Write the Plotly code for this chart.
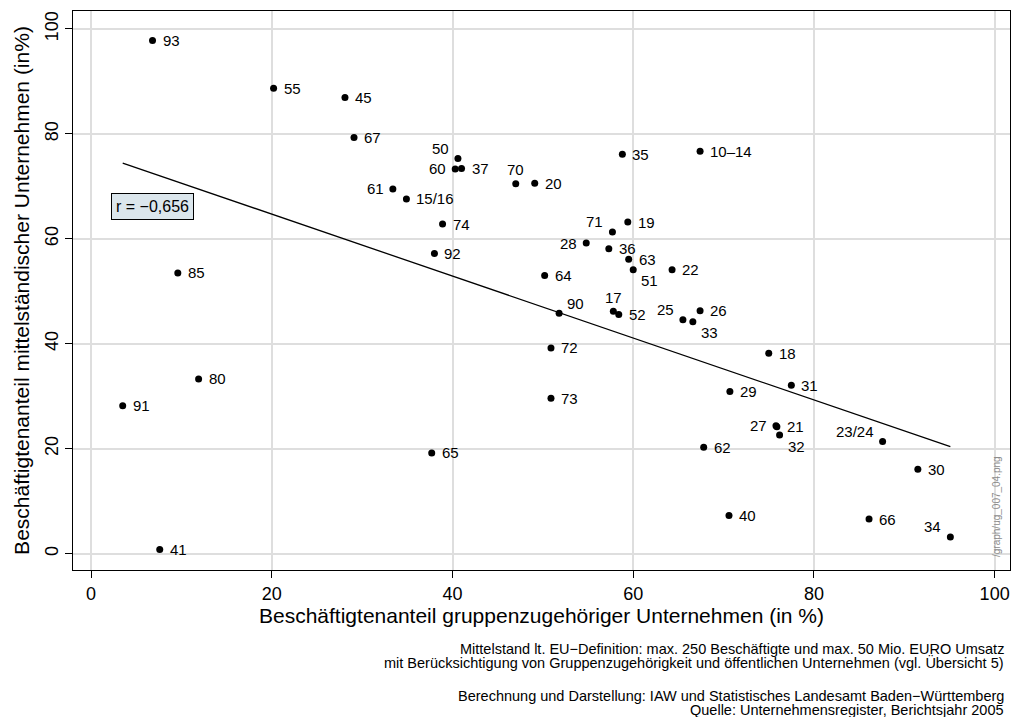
import plotly.graph_objects as go

# Wirtschaftszweige (WZ-Abteilungen)
labels = ["93", "55", "45", "67", "61", "15/16", "50", "60", "37", "70", "20",
          "35", "10–14", "74", "92", "71", "19", "28", "36", "63", "51", "22",
          "64", "90", "17", "52", "25", "33", "26", "72", "18", "29", "31",
          "27", "21", "32", "23/24", "62", "30", "40", "66", "34", "85", "80",
          "91", "65", "41", "73"]

# Beschäftigtenanteil gruppenzugehöriger Unternehmen (in %)
gruppe = [6.8, 20.2, 28.1, 29.1, 33.4, 34.9, 40.6, 40.3, 41.0, 47.0, 49.1,
          58.8, 67.4, 38.9, 38.0, 57.7, 59.4, 54.8, 57.3, 59.5, 60.0, 64.3,
          50.2, 51.8, 57.8, 58.4, 65.5, 66.6, 67.4, 50.9, 75.0, 70.7, 77.5,
          75.8, 75.9, 76.2, 87.6, 67.8, 91.5, 70.6, 86.1, 95.1, 9.6, 11.9,
          3.5, 37.7, 7.6, 50.9]

# Beschäftigtenanteil mittelständischer Unternehmen (in %)
mittelstand = [97.8, 88.7, 86.9, 79.3, 69.5, 67.6, 75.3, 73.3, 73.4, 70.5, 70.6,
               76.1, 76.7, 62.8, 57.2, 61.3, 63.2, 59.2, 58.1, 56.1, 54.1, 54.1,
               53.0, 45.8, 46.2, 45.6, 44.6, 44.2, 46.3, 39.2, 38.2, 30.9, 32.1,
               24.4, 24.2, 22.6, 21.4, 20.3, 16.1, 7.3, 6.6, 3.2, 53.5, 33.3,
               28.2, 19.2, 0.8, 29.6]

# weighted linear fit (coefficients of the published regression line)
fit_intercept = 76.5
fit_slope = -0.590

korrelation = "r = −0,656"

x_ticks = [0, 20, 40, 60, 80, 100]
y_ticks = [0, 20, 40, 60, 80, 100]

notes = ["Mittelstand lt. EU−Definition: max. 250 Beschäftigte und max. 50 Mio. EURO Umsatz",
         "mit Berücksichtigung von Gruppenzugehörigkeit und öffentlichen Unternehmen (vgl. Übersicht 5)",
         "Berechnung und Darstellung: IAW und Statistisches Landesamt Baden−Württemberg",
         "Quelle: Unternehmensregister, Berichtsjahr 2005"]

FONT = "Liberation Sans, Arial, sans-serif"

# label placement (clock positions); default is 3 o'clock (right of the marker)
label_pos = {"61": 9, "60": 9, "28": 9, "27": 9,
             "50": 11, "71": 11, "25": 11, "23/24": 11, "34": 11,
             "70": 12, "17": 12, "90": 1,
             "51": 4, "33": 4, "32": 4}

# plot area in figure pixels
W, H = 1015, 717
PL, PR, PT, PB = 73, 1010, 11, 570

fig = go.Figure()

x_fit = [min(gruppe), max(gruppe)]
fig.add_trace(go.Scatter(x=x_fit, y=[fit_intercept + fit_slope * v for v in x_fit],
                         mode="lines", line=dict(color="black", width=1.3),
                         hoverinfo="skip", showlegend=False))

fig.add_trace(go.Scatter(x=gruppe, y=mittelstand, mode="markers",
                         marker=dict(color="black", size=7),
                         text=labels, showlegend=False))

annotations = []
for lab, xv, yv in zip(labels, gruppe, mittelstand):
    pos = label_pos.get(lab, 3)
    if pos == 3:
        kw = dict(xanchor="left", yanchor="middle", xshift=8, yshift=0)
    elif pos == 9:
        kw = dict(xanchor="right", yanchor="middle", xshift=-7, yshift=0)
    elif pos == 11:
        kw = dict(xanchor="right", yanchor="middle", xshift=-7, yshift=10)
    elif pos == 12:
        kw = dict(xanchor="center", yanchor="middle", xshift=0, yshift=14)
    elif pos == 1:
        kw = dict(xanchor="left", yanchor="middle", xshift=6, yshift=10)
    else:  # 4 o'clock
        kw = dict(xanchor="left", yanchor="middle", xshift=6, yshift=-11)
    annotations.append(dict(x=xv, y=yv, xref="x", yref="y", text=lab,
                            showarrow=False,
                            font=dict(family=FONT, size=15, color="black"), **kw))

# correlation box
annotations.append(dict(x=6.8, y=66.1, xref="x", yref="y", text=korrelation,
                        showarrow=False, bgcolor="#dbe6ec", bordercolor="black",
                        borderwidth=1, borderpad=4,
                        font=dict(family=FONT, size=16, color="black")))

# file path stamp along the right edge
annotations.append(dict(x=(996 - PL) / (PR - PL), y=(PB - 507) / (PB - PT),
                        xref="paper", yref="paper", xanchor="center", yanchor="middle",
                        text="/graph/ug_007_04.png", textangle=-90, showarrow=False,
                        font=dict(family=FONT, size=10, color="#8c8c8c")))

# notes below the chart, right aligned
for txt, ypix in zip(notes, [649.5, 662.5, 695.5, 709.5]):
    annotations.append(dict(x=(1005 - PL) / (PR - PL), y=(PB - ypix) / (PB - PT),
                            xref="paper", yref="paper", text=txt, showarrow=False,
                            xanchor="right", yanchor="middle", borderpad=0,
                            font=dict(family=FONT, size=14.5, color="black")))

axis_common = dict(ticks="outside", ticklen=7, tickwidth=1.2, tickcolor="black",
                   showline=True, linecolor="black", linewidth=1.3, mirror=True,
                   showgrid=True, gridcolor="#dedede", gridwidth=2, zeroline=False,
                   tickfont=dict(size=18))

fig.update_layout(
    width=W, height=H,
    margin=dict(l=PL, r=W - PR, t=PT, b=H - PB),
    paper_bgcolor="white", plot_bgcolor="white",
    font=dict(family=FONT, color="black"),
    annotations=annotations,
    xaxis=dict(range=[-2.0, 101.7], tickvals=x_ticks,
               title=dict(text="Beschäftigtenanteil gruppenzugehöriger Unternehmen (in %)",
                          font=dict(size=21), standoff=4),
               **axis_common),
    yaxis=dict(range=[-3.1, 103.4], tickvals=y_ticks, tickangle=-90,
               title=dict(text="Beschäftigtenanteil mittelständischer Unternehmen (in%)",
                          font=dict(size=21), standoff=6),
               **axis_common),
)

fig.write_html("out.html")
